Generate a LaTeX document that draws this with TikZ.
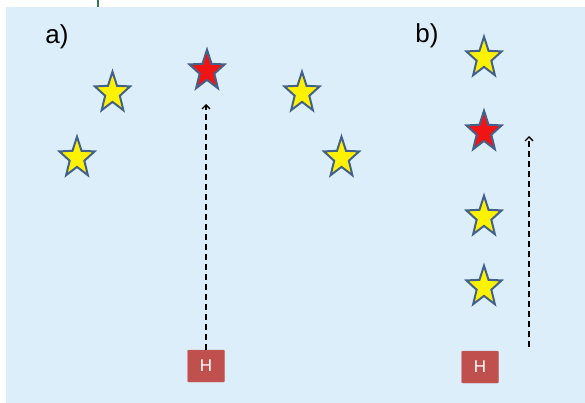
\documentclass[tikz,border=0pt]{standalone}
\usepackage{fontspec}
\setmainfont{Liberation Sans}
\usetikzlibrary{shapes.geometric, arrows.meta}
\definecolor{bgblue}{HTML}{DBEEF9}
\definecolor{starline}{HTML}{44618A}
\definecolor{staryellow}{HTML}{FFF200}
\definecolor{starred}{HTML}{F01414}
\definecolor{hred}{HTML}{C0504D}
\definecolor{tickgreen}{HTML}{2E7D4F}

\begin{document}
\begin{tikzpicture}[x=1pt,y=-1pt,>={Straight Barb[length=4pt,width=8pt]},
		ystar/.style={shape=star, star points=5, star point ratio=2.4, minimum size=37pt, inner sep=0pt, yscale=1.15, draw=starline, line width=2pt, fill=staryellow},
		rstar/.style={ystar, fill=starred},
		hbox/.style={rectangle, rounded corners=1pt, minimum width=37pt, minimum height=32pt, inner sep=0pt, fill=hred, draw=hred!85!white, text=white, font=\fontsize{17}{19}\selectfont},
		lbl/.style={font=\fontsize{26}{30}\selectfont, inner sep=0pt},
		flow/.style={->, dashed, dash pattern=on 6pt off 4pt, line width=1.3pt}]
		\useasboundingbox (0,0) rectangle (585,403);
		\fill[bgblue] (6,7) rectangle (585,403);
		\coordinate (G_TOP) at (98,0);
		\coordinate (G_BOT) at (98,7);
		\draw[tickgreen, line width=1.2pt] (G_TOP) -- (G_BOT);

		% a)
		\node[lbl			] (LBL_A) 	at (57,37) 		{a)};
		\node[ystar			] (A_1) 	at (112.5,93) 	{};
		\node[ystar			] (A_2) 	at (77,158) 	{};
		\node[rstar			] (A_3) 	at (207,71) 	{};
		\node[ystar			] (A_4) 	at (302,93) 	{};
		\node[ystar			] (A_5) 	at (341.5,158) 	{};
		\node[hbox			] (H_A) 	at (206,366) 	{H};
		\coordinate (TIP_A) at (206,104);

		% b)
		\node[lbl			] (LBL_B) 	at (427,36) 	{b)};
		\node[ystar			] (B_1) 	at (484,58) 	{};
		\node[rstar			] (B_2) 	at (484,132) 	{};
		\node[ystar			] (B_3) 	at (484,217) 	{};
		\node[ystar			] (B_4) 	at (484,287) 	{};
		\node[hbox			] (H_B) 	at (480,367) 	{H};
		\coordinate (TAIL_B) at (529,347);
		\coordinate (TIP_B) at (529,136);

		\draw[flow] (H_A) -- (TIP_A);
		\draw[flow] (TAIL_B) -- (TIP_B);
	\end{tikzpicture}
\end{document}
